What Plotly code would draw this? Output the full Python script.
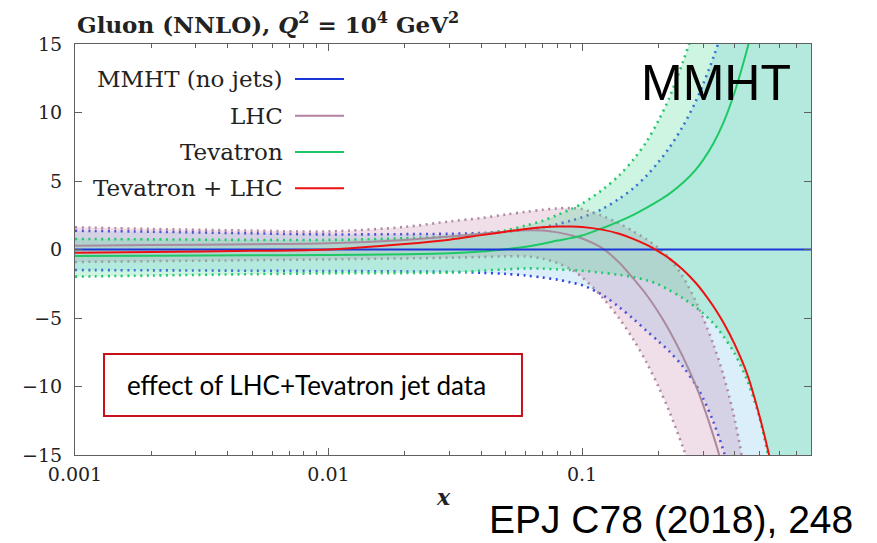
import plotly.graph_objects as go

# ---------------- data ----------------
x = [0.001, 0.002, 0.005, 0.01, 0.02, 0.03, 0.04, 0.05, 0.06, 0.07, 0.08, 0.09, 0.1,
     0.12, 0.14, 0.16, 0.18, 0.2, 0.22, 0.25, 0.28, 0.3, 0.33, 0.36, 0.4, 0.45, 0.5,
     0.55, 0.6, 0.7, 0.8]

mmht_c = [0.0, 0.0, 0.0, 0.0, 0.0, 0.0, 0.0, 0.0, 0.0, 0.0, 0.0, 0.0, 0.0, 0.0, 0.0, 0.0,
          0.0, 0.0, 0.0, 0.0, 0.0, 0.0, 0.0, 0.0, 0.0, 0.0, 0.0, 0.0, 0.0, 0.0, 0.0]
mmht_up = [1.37, 1.3, 1.18, 1.1, 1.12, 1.15, 1.2, 1.3, 1.45, 1.62, 1.85, 2.1, 2.35, 2.95,
           3.7, 4.5, 5.4, 6.38, 7.38, 9.0, 10.76, 12.05, 14.05, 16.15, 19.0, 22.6, 26.5,
           30.5, 35, 45, 56]
mmht_lo = [-1.5, -1.52, -1.55, -1.57, -1.6, -1.63, -1.7, -1.78, -1.9, -2.05, -2.2, -2.4,
           -2.6, -3.3, -4.2, -5.1, -5.95, -6.7, -7.4, -8.55, -9.85, -10.85, -12.6, -14.6,
           -17.5, -21, -24.7, -28.5, -33, -43, -55]

lhc_c = [0.28, 0.32, 0.38, 0.45, 0.7, 0.95, 1.15, 1.3, 1.4, 1.38, 1.25, 1.05, 0.8, 0.1,
         -0.95, -2.17, -3.34, -4.58, -5.85, -7.84, -9.87, -11.32, -13.62, -16.0, -19.3,
         -23.4, -27.5, -32, -36, -45, -55]
lhc_up = [1.62, 1.5, 1.38, 1.32, 1.65, 2.05, 2.3, 2.55, 2.75, 2.9, 3.0, 3.02, 2.95, 2.45,
          1.9, 1.3, 0.73, 0.1, -0.6, -2.0, -3.72, -4.99, -6.95, -9.1, -12.4, -17.5, -22.5,
          -28, -34, -48, -65]
lhc_lo = [-0.91, -0.85, -0.78, -0.72, -0.65, -0.6, -0.55, -0.5, -0.5, -0.67, -0.99, -1.42,
          -2.02, -3.48, -5.02, -6.62, -8.28, -10.0, -11.74, -14.44, -17.1, -18.9, -21.6,
          -24.2, -28, -33, -38, -43, -48, -60, -72]

tev_c = [-0.47, -0.45, -0.42, -0.4, -0.35, -0.28, -0.15, 0.02, 0.2, 0.42, 0.65, 0.83, 1.02,
         1.55, 2.05, 2.55, 3.06, 3.55, 4.04, 4.87, 5.8, 6.52, 7.76, 9.2, 11.5, 14.76, 18.2,
         22.5, 27, 38, 52]
tev_up = [0.77, 0.74, 0.7, 0.7, 0.82, 0.95, 1.15, 1.4, 1.75, 2.1, 2.52, 2.93, 3.35, 4.34,
          5.41, 6.6, 7.9, 9.4, 11.0, 13.7, 16.4, 18.2, 21, 24, 28, 33.5, 38.5, 43.5, 48.5,
          60, 72]
tev_lo = [-1.98, -1.9, -1.8, -1.74, -1.72, -1.68, -1.55, -1.45, -1.38, -1.4, -1.45, -1.5,
          -1.55, -1.7, -1.85, -2.02, -2.25, -2.55, -2.95, -3.55, -4.2, -4.65, -5.4, -6.3,
          -7.6, -9.65, -12.2, -15.6, -19, -27, -36]

tevlhc_c = [-0.23, -0.18, -0.1, 0.0, 0.4, 0.72, 1.05, 1.3, 1.5, 1.62, 1.68, 1.68, 1.65,
            1.45, 1.15, 0.76, 0.33, -0.13, -0.63, -1.48, -2.41, -3.09, -4.16, -5.3, -6.93,
            -9.2, -12.1, -15.2, -18.5, -25, -32]

x_ticks = [0.001, 0.01, 0.1]
x_ticktext = ["0.001", "0.01", "0.1"]
x_minor = [0.002, 0.003, 0.004, 0.005, 0.006, 0.007, 0.008, 0.009,
           0.02, 0.03, 0.04, 0.05, 0.06, 0.07, 0.08, 0.09,
           0.2, 0.3, 0.4, 0.5, 0.6, 0.7, 0.8]
y_ticks = [-15, -10, -5, 0, 5, 10, 15]
y_ticktext = ["\u221215", "\u221210", "\u22125", "0", "5", "10", "15"]

legend_names = ["MMHT (no jets)", "LHC", "Tevatron", "Tevatron + LHC"]

# ---------------- styles ----------------
BLUE = "#1a36d8"
MAUVE = "#b5809f"
GREEN = "#1ec864"
RED = "#ee1111"
legend_colors = [BLUE, MAUVE, GREEN, RED]

bands = [
    (mmht_lo, mmht_up, "rgba(150,210,240,0.35)", "#2a45e6"),
    (lhc_lo, lhc_up, "rgba(195,123,163,0.25)", "#b08aa3"),
    (tev_lo, tev_up, "rgba(88,222,155,0.30)", "#22c86a"),
]

SERIF = "DejaVu Serif"
DOT = "2px,4.5px"
SMOOTH = 0.9

fig = go.Figure()

for lo, up, fillc, linec in bands:
    fig.add_trace(go.Scatter(x=x, y=lo, mode="lines", showlegend=False, hoverinfo="skip",
                             line=dict(color=linec, width=2.6, dash=DOT, shape="spline",
                                       smoothing=SMOOTH)))
    fig.add_trace(go.Scatter(x=x, y=up, mode="lines", showlegend=False, hoverinfo="skip",
                             fill="tonexty", fillcolor=fillc,
                             line=dict(color=linec, width=2.6, dash=DOT, shape="spline",
                                       smoothing=SMOOTH)))

for ys, col in [(lhc_c, "#a98a9e"), (tev_c, GREEN), (mmht_c, BLUE), (tevlhc_c, RED)]:
    fig.add_trace(go.Scatter(x=x, y=ys, mode="lines", showlegend=False, hoverinfo="skip",
                             line=dict(color=col, width=2, shape="spline", smoothing=SMOOTH)))

# ---------------- layout ----------------
axis_common = dict(showline=True, linecolor="#606060", linewidth=1, mirror="allticks",
                   ticks="inside", tickcolor="#606060", ticklen=7, showgrid=False,
                   zeroline=False, tickfont=dict(family=SERIF, size=19, color="#222"))

fig.update_layout(
    width=877, height=543,
    margin=dict(l=75, r=66, t=44, b=88),
    paper_bgcolor="white", plot_bgcolor="white",
    showlegend=False,
    xaxis=dict(type="log", range=[-3, -0.097], tickvals=x_ticks, ticktext=x_ticktext,
               ticklabelstandoff=2,
               minor=dict(tickvals=x_minor, ticks="inside", ticklen=4, tickcolor="#606060"),
               **axis_common),
    yaxis=dict(range=[-15, 15], tickvals=y_ticks, ticktext=y_ticktext,
               ticklabelstandoff=8, **axis_common),
)

# custom legend (text right-aligned, sample line on the right)
leg_y = [0.9148, 0.8255, 0.7372, 0.6489]
for name, col, yy in zip(legend_names, legend_colors, leg_y):
    fig.add_annotation(xref="paper", yref="paper", x=0.2853, y=yy, xanchor="right",
                       yanchor="middle", text=name, showarrow=False,
                       font=dict(family=SERIF, size=23, color="#222"))
    fig.add_shape(type="line", xref="paper", yref="paper", x0=0.2989, x1=0.3655,
                  y0=yy, y1=yy, line=dict(color=col, width=2))

# title
fig.add_annotation(xref="paper", yref="paper", x=0.0, y=1.052, xanchor="left",
                   yanchor="middle", showarrow=False,
                   text="<b>Gluon (NNLO), <i>Q</i><sup>2</sup> = 10<sup>4</sup> GeV<sup>2</sup></b>",
                   font=dict(family=SERIF, size=23, color="#222"))

# MMHT label
fig.add_annotation(xref="paper", yref="paper", x=0.871, y=0.904, xanchor="center",
                   yanchor="middle", showarrow=False, text="MMHT",
                   font=dict(family="Liberation Sans", size=50, color="black"))

# boxed note
fig.add_shape(type="rect", xref="paper", yref="paper", x0=0.0394, x1=0.6073,
              y0=0.0949, y1=0.2457, line=dict(color="#c8101a", width=2),
              fillcolor="rgba(255,255,255,0)")
fig.add_annotation(xref="paper", yref="paper", x=0.068, y=0.170, xanchor="left",
                   yanchor="middle", showarrow=False, text="effect of LHC+Tevatron jet data",
                   font=dict(family="Lato", size=26, color="black"))

# x axis label
fig.add_annotation(xref="paper", yref="paper", x=0.5, y=-0.102, xanchor="center",
                   yanchor="middle", showarrow=False, text="<b><i>x</i></b>",
                   font=dict(family=SERIF, size=22, color="#222"))

# citation
fig.add_annotation(xref="paper", yref="paper", x=1.0598, y=-0.158, xanchor="right",
                   yanchor="middle", showarrow=False, text="EPJ C78 (2018), 248",
                   font=dict(family="Liberation Sans", size=39, color="black"))

fig.write_html("out.html", config={"displayModeBar": False},
               post_script="document.body.style.margin='0px';")
